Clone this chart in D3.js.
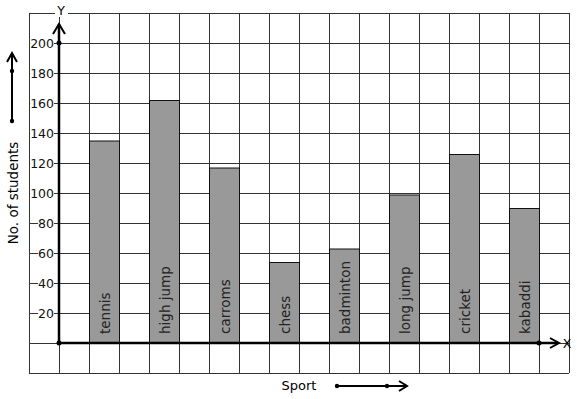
<!DOCTYPE html>
<html>
<head>
<meta charset="utf-8">
<script src="https://cdn.jsdelivr.net/npm/d3@7"></script>
<style>
  body { margin: 0; background: #fff; }
  text { font-family: "DejaVu Sans", sans-serif; }
</style>
</head>
<body>
<div id="chart"></div>
<script>
const sports = ["tennis", "high jump", "carroms", "chess", "badminton", "long jump", "cricket", "kabaddi"];
const students = [135, 162, 117, 54, 63, 99, 126, 90];
const yTicks = [20, 40, 60, 80, 100, 120, 140, 160, 180, 200];

const width = 577;
const height = 399;

const svg = d3.select("#chart")
  .append("svg")
  .attr("width", width)
  .attr("height", height);

// grid units: one cell = 30px horizontally, 20 students vertically
const gx = d3.scaleLinear().domain([-1, 17]).range([29, 569]);
const y = d3.scaleLinear().domain([-20, 220]).range([373, 13]);

const x = d3.scaleBand()
  .domain(sports)
  .range([gx(0), gx(16)])
  .paddingInner(0.5)
  .paddingOuter(0.25)
  .align(1);

// grid
const grid = svg.append("g")
  .attr("stroke", "#333")
  .attr("stroke-width", 1)
  .attr("shape-rendering", "crispEdges");

grid.selectAll(".v")
  .data(d3.range(-1, 18))
  .enter()
  .append("line")
  .attr("x1", d => gx(d) + 0.5)
  .attr("x2", d => gx(d) + 0.5)
  .attr("y1", y(220))
  .attr("y2", y(-20));

grid.selectAll(".h")
  .data(d3.range(-20, 221, 20))
  .enter()
  .append("line")
  .attr("x1", gx(-1))
  .attr("x2", gx(17))
  .attr("y1", d => y(d) + 0.5)
  .attr("y2", d => y(d) + 0.5);

// bars
svg.selectAll(".bar")
  .data(students)
  .enter()
  .append("rect")
  .attr("x", (d, i) => x(sports[i]) + 0.5)
  .attr("y", d => y(d) + 0.5)
  .attr("width", x.bandwidth())
  .attr("height", d => y(0) - y(d))
  .attr("fill", "#999")
  .attr("stroke", "#111")
  .attr("stroke-width", 1);

svg.selectAll(".blabel")
  .data(sports)
  .enter()
  .append("text")
  .attr("transform", d => `translate(${x(d) + x.bandwidth() / 2 + 1},${y(0) - 9}) rotate(-90)`)
  .attr("dy", "0.35em")
  .attr("font-size", 13.5)
  .attr("fill", "#222")
  .text(d => d);

// y tick labels, knocking out the grid line only behind the glyphs
const yl = svg.append("g");
yTicks.forEach(t => {
  const bg = yl.append("rect").attr("fill", "#fff");
  const txt = yl.append("text")
    .attr("x", 54)
    .attr("y", y(t))
    .attr("dy", "0.36em")
    .attr("text-anchor", "end")
    .attr("font-size", 12.5)
    .attr("fill", "#111")
    .text(t);
  const w = txt.node().getComputedTextLength();
  bg.attr("x", 54 - w).attr("y", y(t) - 6).attr("width", w).attr("height", 12);
});

// axes
const ax = svg.append("g").attr("stroke", "#000").attr("fill", "none");
ax.append("line")
  .attr("x1", gx(0)).attr("x2", gx(0))
  .attr("y1", y(0)).attr("y2", 24)
  .attr("stroke-width", 2.5);
ax.append("path")
  .attr("d", `M${gx(0) - 6},34 L${gx(0)},24 L${gx(0) + 6},34`)
  .attr("stroke-width", 2);
ax.append("line")
  .attr("x1", gx(0)).attr("x2", 558)
  .attr("y1", y(0)).attr("y2", y(0))
  .attr("stroke-width", 2.5);
ax.append("path")
  .attr("d", `M550,${y(0) - 5} L559,${y(0)} L550,${y(0) + 5}`)
  .attr("stroke-width", 2);

[[gx(0), y(0)], [gx(0), y(200)], [gx(16), y(0)]].forEach(p => {
  svg.append("circle").attr("cx", p[0]).attr("cy", p[1]).attr("r", 2.5).attr("fill", "#000");
});

// axis letters
svg.append("rect").attr("x", 55).attr("y", 3).attr("width", 13).attr("height", 14).attr("fill", "#fff");
svg.append("text")
  .attr("x", 61).attr("y", 10).attr("dy", "0.36em")
  .attr("text-anchor", "middle").attr("font-size", 12.5)
  .text("Y");
svg.append("text")
  .attr("x", 567).attr("y", y(0)).attr("dy", "0.36em")
  .attr("text-anchor", "middle").attr("font-size", 12.5)
  .text("X");

// y title and arrow
svg.append("text")
  .attr("transform", "translate(13,193) rotate(-90)")
  .attr("dy", "0.36em")
  .attr("text-anchor", "middle")
  .attr("font-size", 13.5)
  .text("No. of students");

const la = svg.append("g").attr("stroke", "#000").attr("fill", "none").attr("stroke-width", 2);
la.append("line").attr("x1", 12).attr("x2", 12).attr("y1", 121).attr("y2", 53);
la.append("path").attr("d", "M7,62 L12,53 L17,62");
svg.append("circle").attr("cx", 12).attr("cy", 71).attr("r", 2.2).attr("fill", "#000");
svg.append("circle").attr("cx", 12).attr("cy", 121).attr("r", 2.2).attr("fill", "#000");

// x title and arrow
svg.append("text")
  .attr("x", 299).attr("y", 385).attr("dy", "0.36em")
  .attr("text-anchor", "middle").attr("font-size", 13)
  .text("Sport");

const sa = svg.append("g").attr("stroke", "#000").attr("fill", "none").attr("stroke-width", 2);
sa.append("line").attr("x1", 337).attr("x2", 406).attr("y1", 386).attr("y2", 386);
sa.append("path").attr("d", "M399,381 L407,386 L399,391");
svg.append("circle").attr("cx", 337).attr("cy", 386).attr("r", 2.2).attr("fill", "#000");
svg.append("circle").attr("cx", 387).attr("cy", 386).attr("r", 2.2).attr("fill", "#000");
</script>
</body>
</html>
